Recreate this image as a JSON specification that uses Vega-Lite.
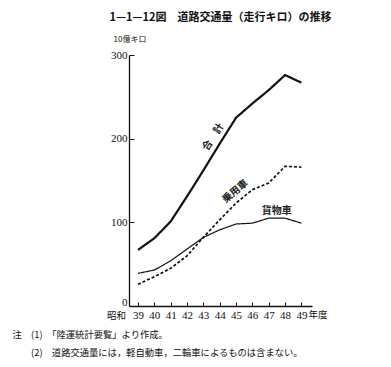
{
  "$schema": "https://vega.github.io/schema/vega-lite/v6.json",
  "width": 183,
  "height": 251,
  "autosize": {"type": "none"},
  "padding": {"left": 129, "top": 55, "right": 79, "bottom": 61},
  "background": "white",
  "title": {
    "text": "1—1—12図　道路交通量（走行キロ）の推移",
    "font": "Noto Sans CJK JP",
    "fontSize": 11,
    "fontWeight": "bold",
    "color": "#111",
    "anchor": "middle",
    "offset": 12
  },
  "config": {
    "view": {"stroke": null},
    "axis": {"grid": false, "domainColor": "#111", "tickColor": "#111", "labelColor": "#111", "titleColor": "#111"}
  },
  "datasets": {
    "lines": [
      {"year": 39, "series": "合計", "value": 67},
      {"year": 40, "series": "合計", "value": 81},
      {"year": 41, "series": "合計", "value": 101},
      {"year": 42, "series": "合計", "value": 131},
      {"year": 43, "series": "合計", "value": 162},
      {"year": 44, "series": "合計", "value": 194},
      {"year": 45, "series": "合計", "value": 225},
      {"year": 46, "series": "合計", "value": 242},
      {"year": 47, "series": "合計", "value": 258},
      {"year": 48, "series": "合計", "value": 276},
      {"year": 49, "series": "合計", "value": 267},
      {"year": 39, "series": "乗用車", "value": 26},
      {"year": 40, "series": "乗用車", "value": 35},
      {"year": 41, "series": "乗用車", "value": 45},
      {"year": 42, "series": "乗用車", "value": 60},
      {"year": 43, "series": "乗用車", "value": 82},
      {"year": 44, "series": "乗用車", "value": 103},
      {"year": 45, "series": "乗用車", "value": 123},
      {"year": 46, "series": "乗用車", "value": 139},
      {"year": 47, "series": "乗用車", "value": 147},
      {"year": 48, "series": "乗用車", "value": 167},
      {"year": 49, "series": "乗用車", "value": 166},
      {"year": 39, "series": "貨物車", "value": 39},
      {"year": 40, "series": "貨物車", "value": 43},
      {"year": 41, "series": "貨物車", "value": 54},
      {"year": 42, "series": "貨物車", "value": 68},
      {"year": 43, "series": "貨物車", "value": 82},
      {"year": 44, "series": "貨物車", "value": 91},
      {"year": 45, "series": "貨物車", "value": 98},
      {"year": 46, "series": "貨物車", "value": 99},
      {"year": 47, "series": "貨物車", "value": 105},
      {"year": 48, "series": "貨物車", "value": 105},
      {"year": 49, "series": "貨物車", "value": 99}
    ],
    "labels": [
      {"label": "合　計", "year": 43.6, "value": 202, "angle": -57},
      {"label": "乗用車", "year": 44.95, "value": 137, "angle": -40},
      {"label": "貨物車", "year": 47.5, "value": 113, "angle": 0}
    ],
    "leftText": [{"label": "昭和", "year": 38.45, "value": 0}],
    "rightText": [{"label": "年度", "year": 49, "value": 0}]
  },
  "encoding": {
    "x": {
      "field": "year", "type": "quantitative",
      "scale": {"domain": [38.45, 49.65], "nice": false, "zero": false},
      "axis": {
        "values": [39, 40, 41, 42, 43, 44, 45, 46, 47, 48, 49],
        "format": "d",
        "labelFont": "Liberation Serif",
        "labelFontSize": 11,
        "labelFlush": false,
        "labelOverlap": false,
        "labelBound": false,
        "tickSize": -4,
        "labelPadding": 7,
        "domainWidth": 1.3,
        "title": ["注　(1)　「陸運統計要覧」より作成。", "\u200b　　(2)　道路交通量には，軽自動車，二輪車によるものは含まない。"],
        "titleFont": "Noto Sans CJK JP",
        "titleFontSize": 9.3,
        "titleFontWeight": "normal",
        "titleAlign": "left",
        "titleAnchor": "start",
        "titleBaseline": "top",
        "titleX": -117,
        "titleY": 24,
        "titleLineHeight": 18
      }
    },
    "y": {
      "field": "value", "type": "quantitative",
      "scale": {"domain": [0, 300], "nice": false},
      "axis": {
        "values": [0, 100, 200, 300],
        "labelFont": "Liberation Serif",
        "labelFontSize": 11,
        "labelOffset": {"condition": {"test": "datum.value === 0", "value": -4}, "value": 0},
        "tickSize": -5,
        "labelPadding": 7,
        "domainWidth": 1.3,
        "title": "10億キロ",
        "titleFont": "Noto Sans CJK JP",
        "titleFontSize": 8,
        "titleFontWeight": "normal",
        "titleAngle": 0,
        "titleAlign": "left",
        "titleBaseline": "middle",
        "titleX": -16,
        "titleY": -16
      }
    }
  },
  "layer": [
    {
      "data": {"name": "lines"},
      "mark": {"type": "line", "color": "#111"},
      "encoding": {
        "detail": {"field": "series"},
        "strokeDash": {
          "field": "series", "type": "nominal",
          "scale": {"domain": ["合計", "乗用車", "貨物車"], "range": [[1, 0], [3, 2], [1, 0]]},
          "legend": null
        },
        "strokeWidth": {
          "field": "series", "type": "nominal",
          "scale": {"domain": ["合計", "乗用車", "貨物車"], "range": [2.2, 1.2, 1.4]},
          "legend": null
        }
      }
    },
    {
      "data": {"name": "labels"},
      "mark": {"type": "text", "font": "Noto Sans CJK JP", "fontSize": 10, "fontWeight": "bold", "color": "#222", "align": "center", "baseline": "middle"},
      "encoding": {
        "text": {"field": "label"},
        "angle": {"field": "angle", "type": "quantitative", "scale": null}
      }
    },
    {
      "data": {"name": "leftText"},
      "mark": {"type": "text", "font": "Noto Sans CJK JP", "fontSize": 9.5, "color": "#111", "baseline": "top", "align": "right", "dy": 5, "dx": -3},
      "encoding": {"text": {"field": "label"}}
    },
    {
      "data": {"name": "rightText"},
      "mark": {"type": "text", "font": "Noto Sans CJK JP", "fontSize": 9.5, "color": "#111", "baseline": "top", "align": "left", "dy": 4, "dx": 7},
      "encoding": {"text": {"field": "label"}}
    }
  ]
}
